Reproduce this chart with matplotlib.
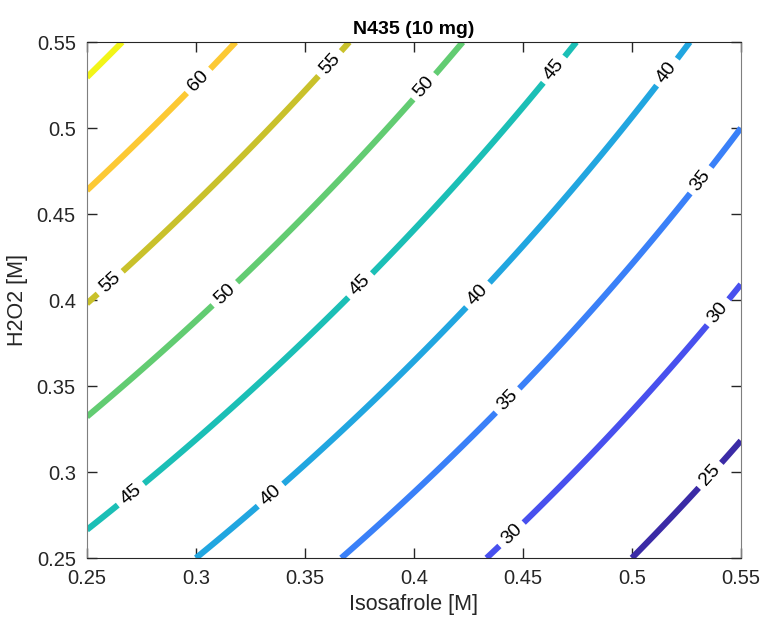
import numpy as np
import matplotlib
matplotlib.use("Agg")
import matplotlib.pyplot as plt

plt.rcParams['font.family'] = ['Liberation Sans', 'DejaVu Sans']

# fitted response surface: yield = b0 + b1*iso + b2*h2o2 + b12*iso*h2o2
b0 = 39.125
b_iso = -57.5
b_h2o2 = 93.5
b_inter = -70.0

iso_range = [0.25, 0.55]
h2o2_range = [0.25, 0.55]
levels = [25, 30, 35, 40, 45, 50, 55, 60, 65]
level_colors = ['#3b2ba6', '#4850ee', '#3a80f8', '#21a6e0', '#1bbfb6',
                '#62cc72', '#c9c12b', '#fcc934', '#f2f518']
ticks = [0.25, 0.3, 0.35, 0.4, 0.45, 0.5, 0.55]
tick_labels = ['0.25', '0.3', '0.35', '0.4', '0.45', '0.5', '0.55']

x = np.linspace(iso_range[0], iso_range[1], 300)
y = np.linspace(h2o2_range[0], h2o2_range[1], 300)
X, Y = np.meshgrid(x, y)
Z = b0 + b_iso * X + b_h2o2 * Y + b_inter * X * Y

fig = plt.figure(figsize=(7.63, 6.19), dpi=100)
ax = fig.add_axes([0.114, 0.0985, 0.857, 0.8335])

cs = ax.contour(X, Y, Z, levels=levels, colors=level_colors, linewidths=4.4)

label_pos = [(0.3018, 0.5267), (0.3606, 0.5384), (0.2546, 0.4186),
             (0.405, 0.5238), (0.3147, 0.4017), (0.4628, 0.5355),
             (0.3752, 0.4087), (0.2651, 0.2948), (0.516, 0.5326),
             (0.4294, 0.4029), (0.333, 0.2884), (0.5326, 0.4686),
             (0.4427, 0.3419), (0.5394, 0.393), (0.4385, 0.2721),
             (0.5372, 0.2965)]
lbls = ax.clabel(cs, inline=True, fontsize=14, fmt='%d', manual=label_pos,
                 inline_spacing=6, colors='black')

ax.set_xlim(iso_range)
ax.set_ylim(h2o2_range)
ax.set_xticks(ticks)
ax.set_xticklabels(tick_labels)
ax.set_yticks(ticks)
ax.set_yticklabels(tick_labels)
ax.tick_params(direction='in', length=7, width=1, top=True, right=True,
               labelsize=14.5, colors='#262626', pad=8)
for s in ['top', 'bottom']:
    ax.spines[s].set_color('#262626')
for s in ['left', 'right']:
    ax.spines[s].set_color('#7f7f7f')

ax.set_xlabel('Isosafrole [M]', fontsize=15.5, color='#262626', labelpad=4)
ax.set_ylabel('H2O2 [M]', fontsize=15.5, color='#262626', labelpad=6)
ax.set_title('N435 (10 mg)', fontsize=14, fontweight='bold', pad=6)

fig.savefig('out.png', dpi=100)
